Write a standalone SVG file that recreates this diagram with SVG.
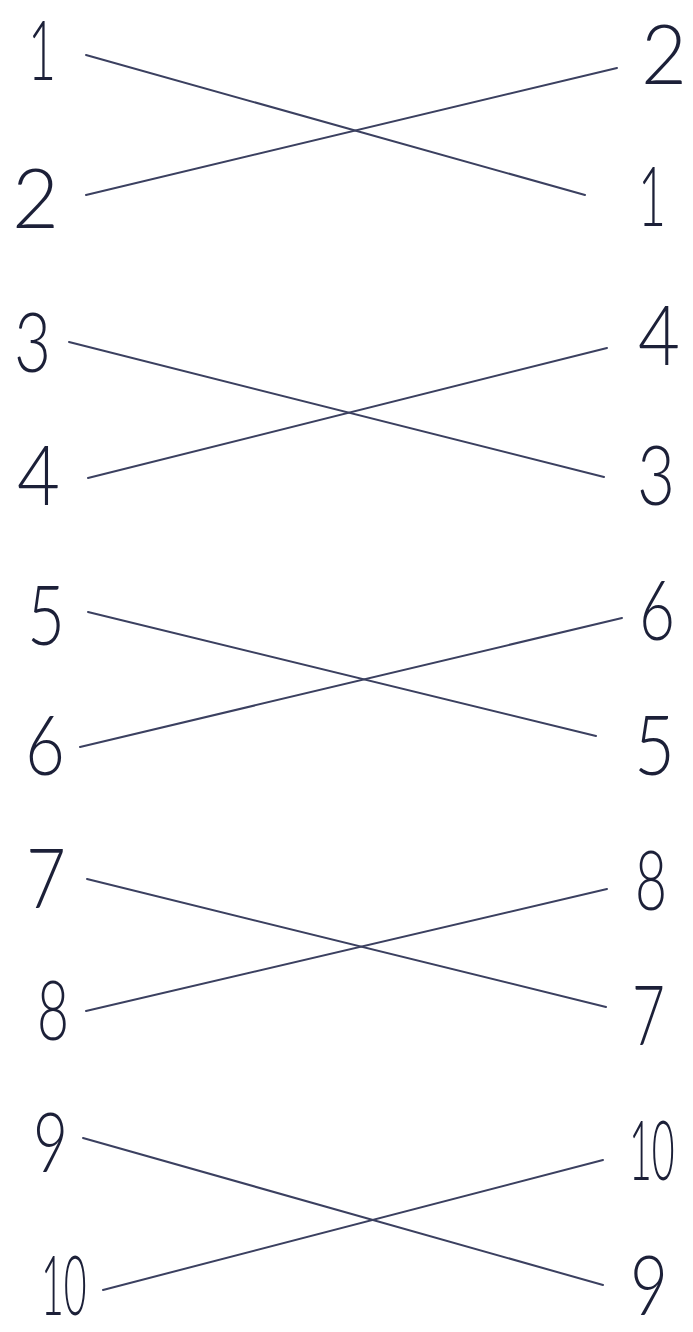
<svg xmlns="http://www.w3.org/2000/svg" width="693" height="1332" viewBox="0 0 693 1332">
<style>
.lbl{font-family:"Lato","Inter","Liberation Sans",sans-serif;font-weight:300;font-size:82px;fill:#1c2038}
.ln{stroke:#3b4060;stroke-width:2;stroke-linecap:round;fill:none}
</style>
<rect width="693" height="1332" fill="#ffffff"/>
<g id="connectors">
<line class="ln" x1="86" y1="55" x2="585" y2="195"/>
<line class="ln" x1="86" y1="195" x2="617" y2="68"/>
<line class="ln" x1="69" y1="342" x2="604" y2="477"/>
<line class="ln" x1="88" y1="478" x2="607" y2="348"/>
<line class="ln" x1="88" y1="612" x2="596" y2="736"/>
<line class="ln" x1="80" y1="747" x2="622" y2="618"/>
<line class="ln" x1="87" y1="879" x2="606" y2="1007"/>
<line class="ln" x1="86" y1="1011" x2="607" y2="889"/>
<line class="ln" x1="83" y1="1138" x2="603" y2="1285"/>
<line class="ln" x1="103" y1="1290" x2="603" y2="1160"/>
</g>
<g id="left-1"><text class="lbl" x="28" y="80" textLength="28" lengthAdjust="spacingAndGlyphs">1</text></g>
<g id="left-2"><text class="lbl" x="12" y="228" textLength="47" lengthAdjust="spacingAndGlyphs">2</text></g>
<g id="left-3"><text class="lbl" x="14" y="372" textLength="37" lengthAdjust="spacingAndGlyphs">3</text></g>
<g id="left-4"><text class="lbl" x="17" y="505" textLength="43" lengthAdjust="spacingAndGlyphs">4</text></g>
<g id="left-5"><text class="lbl" x="27" y="645" textLength="38" lengthAdjust="spacingAndGlyphs">5</text></g>
<g id="left-6"><text class="lbl" x="25" y="775" textLength="40" lengthAdjust="spacingAndGlyphs">6</text></g>
<g id="left-7"><text class="lbl" x="26" y="908" textLength="40" lengthAdjust="spacingAndGlyphs">7</text></g>
<g id="left-8"><text class="lbl" x="37" y="1040" textLength="32" lengthAdjust="spacingAndGlyphs">8</text></g>
<g id="left-9"><text class="lbl" x="33" y="1172" textLength="35" lengthAdjust="spacingAndGlyphs">9</text></g>
<g id="left-10"><text class="lbl" transform="translate(41,1315) scale(0.48,1)" x="0" y="0">10</text></g>
<g id="right-2"><text class="lbl" x="641" y="84" textLength="46" lengthAdjust="spacingAndGlyphs">2</text></g>
<g id="right-1"><text class="lbl" x="638" y="226" textLength="28" lengthAdjust="spacingAndGlyphs">1</text></g>
<g id="right-4"><text class="lbl" x="638" y="365" textLength="42" lengthAdjust="spacingAndGlyphs">4</text></g>
<g id="right-3"><text class="lbl" x="637" y="505" textLength="38" lengthAdjust="spacingAndGlyphs">3</text></g>
<g id="right-6"><text class="lbl" x="639" y="640" textLength="36" lengthAdjust="spacingAndGlyphs">6</text></g>
<g id="right-5"><text class="lbl" x="634" y="775" textLength="41" lengthAdjust="spacingAndGlyphs">5</text></g>
<g id="right-8"><text class="lbl" x="635" y="910" textLength="32" lengthAdjust="spacingAndGlyphs">8</text></g>
<g id="right-7"><text class="lbl" x="632" y="1045" textLength="33" lengthAdjust="spacingAndGlyphs">7</text></g>
<g id="right-10"><text class="lbl" transform="translate(629,1180) scale(0.48,1)" x="0" y="0">10</text></g>
<g id="right-9"><text class="lbl" x="630" y="1315" textLength="38" lengthAdjust="spacingAndGlyphs">9</text></g>
</svg>
